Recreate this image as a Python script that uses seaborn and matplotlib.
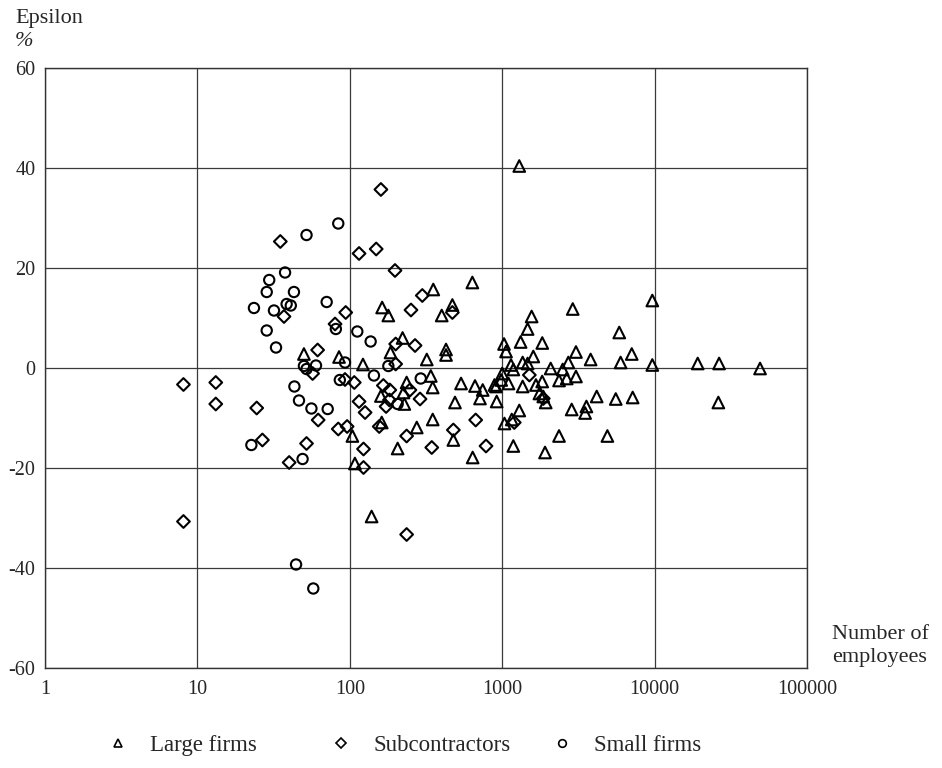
import matplotlib
matplotlib.use("Agg")
import matplotlib.pyplot as plt
from matplotlib.lines import Line2D
from matplotlib.ticker import FixedLocator, FixedFormatter, NullLocator
import seaborn as sns
import pandas as pd

# Large firms: number of employees and epsilon (%)
large_emp = [50, 85, 122, 185, 222, 320, 428, 428, 163, 179, 353, 401, 471, 637,
             236, 160, 225, 228, 340, 350, 537, 663, 745, 715, 910, 920, 490, 350,
             104, 162, 275, 478, 206, 640, 108, 139, 1294, 9660, 2903, 1560, 1468,
             5862, 1028, 1321, 1832, 3048, 7080, 1060, 3804, 5985, 9660, 1142, 1362,
             1468, 1600, 1183, 1000, 2080, 2494, 2716, 3048, 2650, 2360, 890, 985,
             1100, 1362, 1665, 1830, 1755, 1860, 1930, 4170, 5560, 7180, 2857, 3570,
             3500, 1294, 1035, 1155, 2360, 4900, 1183, 1910, 19180, 26500, 49200, 26200]
large_eps = [2.8, 2.2, 0.7, 3.1, 6.0, 1.7, 3.7, 2.6, 12.1, 10.5, 15.7, 10.5, 12.6, 17.1,
             -2.9, -5.6, -4.9, -7.2, -1.6, -3.9, -3.1, -3.6, -4.4, -6.1, -3.7, -6.7, -6.9, -10.3,
             -13.6, -10.9, -11.9, -14.4, -16.1, -17.9, -19.1, -29.7, 40.4, 13.5, 11.8, 10.3, 7.8,
             7.1, 4.8, 5.2, 5.0, 3.2, 2.8, 3.3, 1.7, 1.1, 0.6, 0.6, 1.1,
             0.9, 2.3, -0.3, -1.1, -0.1, -0.3, 1.1, -1.7, -2.1, -2.5, -3.4, -2.4,
             -3.1, -3.7, -3.4, -2.7, -5.1, -5.7, -6.9, -5.7, -6.2, -5.9, -8.3, -7.7,
             -9.0, -8.5, -11.1, -10.3, -13.6, -13.6, -15.6, -16.9, 0.9, 0.9, -0.1, -6.9]

# Subcontractors
sub_emp = [35, 37, 94, 80, 61.5, 160, 115, 149, 198, 299, 252, 471, 200, 268, 200,
           57, 93, 8.1, 13.2, 13.2, 24.5, 62, 84, 96, 26.7, 52, 40, 107, 166, 183,
           248, 182, 173, 289, 115, 126, 670, 156, 236, 478, 123, 345, 783, 123,
           1507, 1860, 1200, 8.1, 236]
sub_eps = [25.3, 10.3, 11.1, 8.8, 3.6, 35.7, 22.9, 23.8, 19.5, 14.5, 11.6, 11.1, 4.8, 4.5, 0.8,
           -1.1, -2.3, -3.3, -2.9, -7.2, -8.0, -10.4, -12.2, -11.7, -14.4, -15.1, -18.9, -2.9, -3.5, -4.4,
           -4.4, -6.4, -7.7, -6.2, -6.7, -8.9, -10.4, -11.7, -13.6, -12.4, -16.2, -15.9, -15.6, -19.9,
           -1.4, -6.1, -10.9, -30.7, -33.3]

# Small firms
small_emp = [52, 84, 37.6, 29.6, 28.5, 43, 23.5, 31.8, 38.5, 41, 70.5, 81, 28.5, 32.8,
             93, 50, 52, 60, 86, 43.3, 46.4, 56, 71.6, 22.6, 49, 112, 137, 179, 144,
             292, 206, 44.4, 57.6]
small_eps = [26.6, 28.9, 19.1, 17.6, 15.2, 15.2, 12.0, 11.5, 12.8, 12.5, 13.2, 7.8, 7.5, 4.1,
             1.1, 0.4, -0.2, 0.5, -2.4, -3.7, -6.5, -8.1, -8.2, -15.4, -18.2, 7.3, 5.3, 0.4, -1.5,
             -2.1, -7.2, -39.3, -44.1]

groups = ["Large firms", "Subcontractors", "Small firms"]
x_ticks = [1, 10, 100, 1000, 10000, 100000]
x_labels = ["1", "10", "100", "1000", "10000", "100000"]
y_major = [-60, -40, -20, 0, 20, 40, 60]
y_minor = [-50, -30, -10, 10, 30, 50]

df = pd.concat([
    pd.DataFrame({"employees": large_emp, "epsilon": large_eps, "group": groups[0]}),
    pd.DataFrame({"employees": sub_emp, "epsilon": sub_eps, "group": groups[1]}),
    pd.DataFrame({"employees": small_emp, "epsilon": small_eps, "group": groups[2]}),
])

sns.set_style("white")
plt.rcParams["font.family"] = ["Liberation Serif", "DejaVu Serif"]
plt.rcParams["axes.unicode_minus"] = False

W, H = 942, 768
fig = plt.figure(figsize=(W / 100, H / 100), dpi=100)
ax = fig.add_axes([45 / W, 1 - 668 / H, (807 - 45) / W, (668 - 68) / H])

markers = {"Large firms": "^", "Subcontractors": "D", "Small firms": "o"}
sizes = {"Large firms": 70, "Subcontractors": 42, "Small firms": 55}
for g in groups:
    sub = df[df["group"] == g]
    sns.scatterplot(data=sub, x="employees", y="epsilon", marker=markers[g],
                    s=sizes[g], facecolor="none", edgecolor="black",
                    linewidth=1.5, ax=ax, legend=False, zorder=3)

ax.set_xscale("log")
ax.set_xlim(1, 100000)
ax.set_ylim(-60, 60)
ax.xaxis.set_major_locator(FixedLocator(x_ticks))
ax.xaxis.set_major_formatter(FixedFormatter(x_labels))
ax.xaxis.set_minor_locator(NullLocator())
ax.set_yticks(y_major)
ax.set_yticks(y_minor, minor=True)
ax.set_xlabel("")
ax.set_ylabel("")

ax.grid(True, which="major", color="#3a3a3a", linewidth=0.9)
ax.set_axisbelow(True)
for sp in ax.spines.values():
    sp.set_color("#333333")
    sp.set_linewidth(1.0)

ax.tick_params(axis="x", which="both", length=0, pad=9, labelsize=14.5)
ax.tick_params(axis="y", which="major", length=4.5, width=0.9, direction="out",
               pad=2.5, labelsize=14.5)
ax.tick_params(axis="y", which="minor", length=4.5, width=0.9, direction="out")

txt = dict(fontsize=16, ha="left", va="baseline")
fig.text(15 / W, 1 - 23 / H, "Epsilon", **txt)
fig.text(15 / W, 1 - 46 / H, "%", style="italic", **txt)
fig.text(832 / W, 1 - 639 / H, "Number of", **txt)
fig.text(832 / W, 1 - 662 / H, "employees", **txt)

# One legend entry per group, each placed at its own marker position
leg_fs = 16.5
handle_len = 1.0
half_handle_px = handle_len * leg_fs * 100 / 72 / 2
marker_x = {"Large firms": 118, "Subcontractors": 341, "Small firms": 562}
for g in groups:
    h = Line2D([], [], linestyle="none", marker=markers[g], markersize=5.5,
               markerfacecolor="none", markeredgecolor="black",
               markeredgewidth=1.2)
    leg = fig.legend([h], [g], loc="center left",
                     bbox_to_anchor=((marker_x[g] - half_handle_px) / W, 1 - 745 / H),
                     frameon=False, fontsize=leg_fs, handlelength=handle_len,
                     handletextpad=0.9, borderpad=0, borderaxespad=0)

fig.savefig("out.png", dpi=100, facecolor="white")
